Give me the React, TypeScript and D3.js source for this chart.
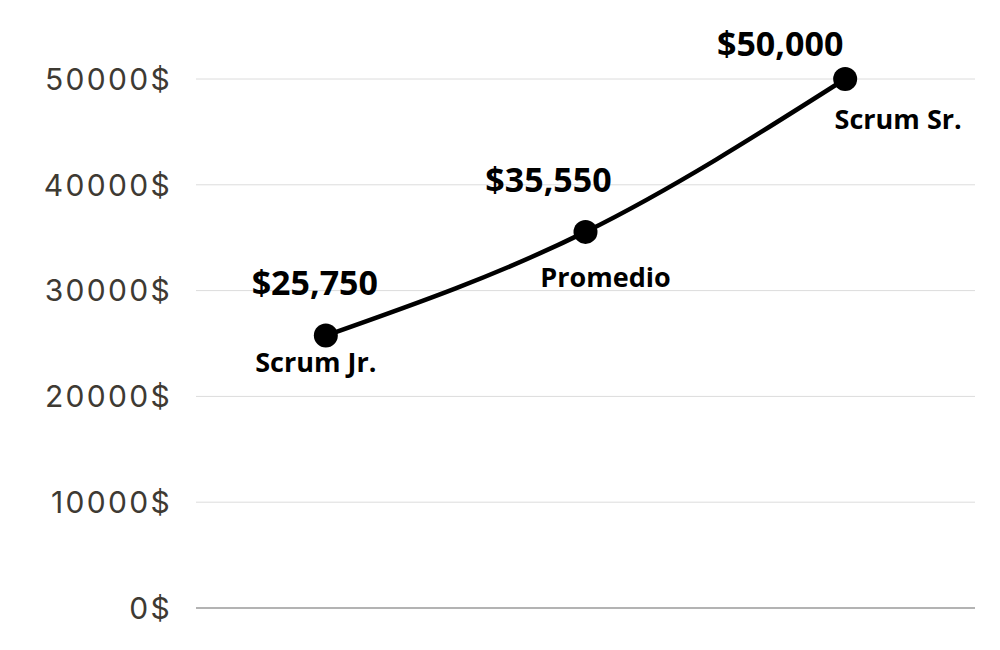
import { format, line, curveMonotoneX, scaleLinear, scalePoint } from "d3";

const width = 1000;
const height = 650;

// data
const roles = ["Scrum Jr.", "Promedio", "Scrum Sr."];
const salaries = [25750, 35550, 50000];
const yTicks = [0, 10000, 20000, 30000, 40000, 50000];

// label nudges (dx from point, baseline dy from point)
const valueDx = [-11, -37, -65];
const valueDy = [-41, -40, -23];
const roleDx = [-10, 20, 53];
const roleDy = [36, 55, 50];

const left = 196;
const right = 975;
const top = 79;
const bottom = 608;

function App() {
  const x = scalePoint<string>().domain(roles).range([left, right]).padding(0.5);
  const y = scaleLinear().domain([0, 50000]).range([bottom, top]);

  const path = line<number>()
    .x((_, i) => x(roles[i]) as number)
    .y((d) => y(d))
    .curve(curveMonotoneX)(salaries);

  const money = format(",");

  return (
    <svg
      width={width}
      height={height}
      style={{ position: "absolute", left: 0, top: 0, background: "#fff" }}
    >
      {yTicks.map((t) => (
        <g key={t}>
          <line
            x1={left}
            x2={right}
            y1={y(t)}
            y2={y(t)}
            stroke={t === 0 ? "#9a9a9a" : "#dcdcdc"}
            strokeWidth={t === 0 ? 1.3 : 1}
          />
          <text
            x={172}
            y={y(t)}
            dy="0.36em"
            textAnchor="end"
            fill="#3e3a33"
            style={{ fontFamily: "Inter, 'Noto Sans', sans-serif", fontSize: 30, letterSpacing: 2.3 }}
          >
            {`${t}$`}
          </text>
        </g>
      ))}

      <path d={path ?? ""} fill="none" stroke="#000" strokeWidth={4.5} />

      {salaries.map((v, i) => {
        const cx = x(roles[i]) as number;
        const cy = y(v);
        return (
          <g key={roles[i]}>
            <circle cx={cx} cy={cy} r={12} fill="#000" />
            <text
              x={cx + valueDx[i]}
              y={cy + valueDy[i]}
              textAnchor="middle"
              fill="#000"
              style={{ fontFamily: "'Open Sans', sans-serif", fontWeight: 700, fontSize: 34 }}
            >
              {`$${money(v)}`}
            </text>
            <text
              x={cx + roleDx[i]}
              y={cy + roleDy[i]}
              textAnchor="middle"
              fill="#000"
              style={{ fontFamily: "'Open Sans', sans-serif", fontWeight: 700, fontSize: 27 }}
            >
              {roles[i]}
            </text>
          </g>
        );
      })}
    </svg>
  );
}

export default App;
